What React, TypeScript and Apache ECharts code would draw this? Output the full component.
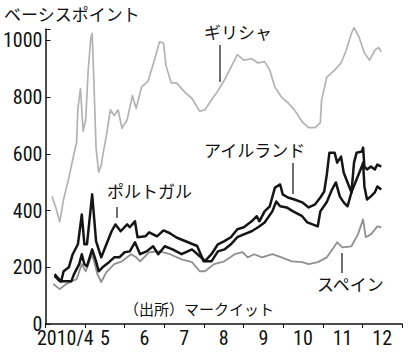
import React, { useEffect, useRef } from "react";
import * as echarts from "echarts";

const monthLabels = ["2010/4", "5", "6", "7", "8", "9", "10", "11", "12"];
const yTicks = [0, 200, 400, 600, 800, 1000];

const greece: [string, number][] = [
  ["2010-04-06", 450], ["2010-04-09", 410], ["2010-04-12", 360], ["2010-04-15", 440],
  ["2010-04-19", 515], ["2010-04-22", 580], ["2010-04-25", 640], ["2010-04-26", 760],
  ["2010-04-28", 830], ["2010-04-30", 680], ["2010-05-02", 720], ["2010-05-04", 900],
  ["2010-05-06", 1010], ["2010-05-07", 1025], ["2010-05-08", 900], ["2010-05-10", 620],
  ["2010-05-12", 535], ["2010-05-14", 560], ["2010-05-15", 590], ["2010-05-18", 665],
  ["2010-05-21", 755], ["2010-05-24", 735], ["2010-05-27", 755], ["2010-05-30", 690],
  ["2010-06-03", 720], ["2010-06-07", 805], ["2010-06-10", 760], ["2010-06-14", 835],
  ["2010-06-19", 855], ["2010-06-24", 930], ["2010-06-28", 995], ["2010-07-01", 990],
  ["2010-07-03", 910], ["2010-07-07", 850], ["2010-07-11", 850], ["2010-07-18", 815],
  ["2010-07-23", 795], ["2010-07-29", 750], ["2010-08-02", 755], ["2010-08-07", 790],
  ["2010-08-11", 815], ["2010-08-17", 860], ["2010-08-22", 905], ["2010-08-27", 950],
  ["2010-09-01", 930], ["2010-09-07", 935], ["2010-09-12", 920], ["2010-09-17", 925],
  ["2010-09-21", 895], ["2010-09-25", 835], ["2010-09-30", 800], ["2010-10-05", 780],
  ["2010-10-10", 755], ["2010-10-16", 713], ["2010-10-21", 692], ["2010-10-26", 692],
  ["2010-10-30", 710], ["2010-10-31", 790], ["2010-11-04", 870], ["2010-11-10", 895],
  ["2010-11-15", 920], ["2010-11-19", 965], ["2010-11-23", 1025], ["2010-11-25", 1045],
  ["2010-11-29", 1010], ["2010-12-03", 955], ["2010-12-07", 930], ["2010-12-11", 965],
  ["2010-12-14", 975], ["2010-12-16", 960],
];

const portugal: [string, number][] = [
  ["2010-04-08", 176], ["2010-04-13", 150], ["2010-04-15", 186], ["2010-04-19", 200],
  ["2010-04-22", 246], ["2010-04-26", 281], ["2010-04-29", 386], ["2010-05-01", 281],
  ["2010-05-03", 281], ["2010-05-07", 457], ["2010-05-10", 292], ["2010-05-14", 235],
  ["2010-05-18", 281], ["2010-05-22", 327], ["2010-05-25", 351], ["2010-05-29", 327],
  ["2010-06-03", 351], ["2010-06-05", 341], ["2010-06-09", 362], ["2010-06-11", 306],
  ["2010-06-17", 309], ["2010-06-20", 323], ["2010-06-26", 309], ["2010-07-01", 330],
  ["2010-07-06", 320], ["2010-07-11", 305], ["2010-07-19", 290], ["2010-07-27", 275],
  ["2010-08-01", 221], ["2010-08-07", 221], ["2010-08-12", 256], ["2010-08-17", 263],
  ["2010-08-22", 281], ["2010-08-27", 306], ["2010-09-01", 316], ["2010-09-07", 327],
  ["2010-09-12", 341], ["2010-09-17", 358], ["2010-09-23", 397], ["2010-09-26", 432],
  ["2010-09-29", 415], ["2010-10-04", 411], ["2010-10-09", 397], ["2010-10-16", 380],
  ["2010-10-20", 358], ["2010-10-24", 351], ["2010-10-28", 344], ["2010-10-30", 397],
  ["2010-11-04", 430], ["2010-11-08", 474], ["2010-11-11", 499], ["2010-11-14", 450],
  ["2010-11-17", 429], ["2010-11-20", 415], ["2010-11-23", 464], ["2010-11-27", 510],
  ["2010-12-01", 555], ["2010-12-02", 569], ["2010-12-03", 485], ["2010-12-05", 439],
  ["2010-12-08", 450], ["2010-12-11", 464], ["2010-12-13", 485], ["2010-12-16", 474],
];

const ireland: [string, number][] = [
  ["2010-04-08", 170], ["2010-04-12", 151], ["2010-04-17", 151], ["2010-04-21", 151],
  ["2010-04-23", 176], ["2010-04-27", 211], ["2010-04-29", 246], ["2010-05-01", 211],
  ["2010-05-03", 204], ["2010-05-07", 263], ["2010-05-10", 221], ["2010-05-12", 186],
  ["2010-05-16", 204], ["2010-05-20", 218], ["2010-05-24", 235], ["2010-05-28", 235],
  ["2010-06-01", 253], ["2010-06-05", 256], ["2010-06-09", 288], ["2010-06-13", 246],
  ["2010-06-18", 256], ["2010-06-23", 274], ["2010-06-27", 246], ["2010-07-02", 274],
  ["2010-07-08", 263], ["2010-07-15", 246], ["2010-07-23", 263], ["2010-07-29", 239],
  ["2010-08-02", 222], ["2010-08-07", 246], ["2010-08-12", 281], ["2010-08-17", 292],
  ["2010-08-22", 306], ["2010-08-27", 334], ["2010-09-01", 341], ["2010-09-07", 362],
  ["2010-09-11", 380], ["2010-09-13", 362], ["2010-09-17", 397], ["2010-09-21", 415],
  ["2010-09-25", 481], ["2010-09-29", 492], ["2010-10-01", 457], ["2010-10-05", 446],
  ["2010-10-10", 439], ["2010-10-16", 429], ["2010-10-21", 411], ["2010-10-26", 422],
  ["2010-10-30", 446], ["2010-11-02", 467], ["2010-11-04", 527], ["2010-11-06", 604],
  ["2010-11-10", 604], ["2010-11-12", 569], ["2010-11-15", 590], ["2010-11-17", 534],
  ["2010-11-20", 499], ["2010-11-23", 464], ["2010-11-25", 569], ["2010-11-27", 604],
  ["2010-12-01", 608], ["2010-12-02", 622], ["2010-12-03", 555], ["2010-12-05", 545],
  ["2010-12-08", 555], ["2010-12-11", 545], ["2010-12-13", 562], ["2010-12-16", 555],
];

const spain: [string, number][] = [
  ["2010-04-07", 141], ["2010-04-12", 123], ["2010-04-17", 141], ["2010-04-25", 158],
  ["2010-04-29", 211], ["2010-05-02", 186], ["2010-05-07", 246], ["2010-05-11", 176],
  ["2010-05-14", 148], ["2010-05-18", 183], ["2010-05-24", 211], ["2010-05-30", 221],
  ["2010-06-06", 246], ["2010-06-10", 235], ["2010-06-13", 221], ["2010-06-20", 253],
  ["2010-06-28", 256], ["2010-07-06", 246], ["2010-07-15", 228], ["2010-07-23", 218],
  ["2010-07-29", 186], ["2010-08-02", 186], ["2010-08-09", 211], ["2010-08-17", 221],
  ["2010-08-25", 246], ["2010-08-31", 253], ["2010-09-04", 235], ["2010-09-09", 246],
  ["2010-09-15", 235], ["2010-09-23", 246], ["2010-09-30", 235], ["2010-10-08", 221],
  ["2010-10-16", 218], ["2010-10-21", 211], ["2010-10-28", 218], ["2010-11-04", 235],
  ["2010-11-10", 274], ["2010-11-12", 288], ["2010-11-16", 270], ["2010-11-23", 274],
  ["2010-11-28", 316], ["2010-12-02", 369], ["2010-12-04", 306], ["2010-12-08", 316],
  ["2010-12-13", 344], ["2010-12-16", 341],
];

const NUM_FONT = "'Liberation Sans Narrow', 'Arial Narrow', 'Roboto Condensed', 'Liberation Sans', sans-serif";
const JP_FONT = "'Noto Sans CJK JP', sans-serif";

export default function App() {
  const ref = useRef<HTMLDivElement>(null);
  useEffect(() => {
    if (!ref.current) return;
    const chart = echarts.init(ref.current, null, { renderer: "svg" });
    const jpText = (text: string, x: number, y: number, size = 17) => ({
      type: "text",
      left: x,
      top: y,
      style: { text, fontSize: size, fontFamily: JP_FONT, fill: "#111" },
      z: 10,
    });
    const leader = (x: number, y1: number, y2: number) => ({
      type: "line",
      shape: { x1: x, y1, x2: x, y2 },
      style: { stroke: "#111", lineWidth: 1.2 },
      z: 10,
    });
    const lineSeries = (data: [string, number][], color: string, width: number, z: number) => ({
      type: "line",
      xAxisIndex: 1,
      data,
      showSymbol: false,
      clip: false,
      z,
      lineStyle: { color, width, join: "round" },
    });
    chart.setOption({
      animation: false,
      backgroundColor: "#fff",
      grid: { left: 45, right: 8, top: 29, bottom: 31, containLabel: false },
      xAxis: [
        {
          type: "category",
          data: monthLabels,
          boundaryGap: true,
          axisLine: { show: true, lineStyle: { color: "#111", width: 1.5 } },
          axisTick: { show: true, length: 4, alignWithLabel: false, lineStyle: { color: "#111" } },
          axisLabel: { color: "#111", fontSize: 20, fontFamily: NUM_FONT, margin: 4, interval: 0 },
          splitLine: { show: false },
        },
        {
          type: "time",
          min: "2010-04-01",
          max: "2011-01-01",
          show: false,
        },
      ],
      yAxis: {
        type: "value",
        min: 0,
        max: 1040,
        interval: 200,
        axisLine: { show: true, lineStyle: { color: "#111", width: 1.5 } },
        axisTick: { show: true, inside: true, length: 5, lineStyle: { color: "#111" } },
        axisLabel: {
          color: "#111",
          fontSize: 20,
          fontFamily: NUM_FONT,
          margin: 3,
          formatter: (v: number) => (yTicks.includes(v) ? String(v) : ""),
        },
        splitLine: { show: false },
      },
      series: [
        lineSeries(greece, "#b3b3b3", 1.7, 1),
        lineSeries(spain, "#909090", 1.8, 2),
        lineSeries(portugal, "#151515", 2.5, 3),
        lineSeries(ireland, "#151515", 2.5, 4),
      ],
      graphic: [
        jpText("ベーシスポイント", 4, 5, 17),
        jpText("ギリシャ", 204, 23, 17),
        leader(220, 45, 82),
        jpText("アイルランド", 204, 141, 17),
        leader(293, 163, 194),
        jpText("ポルトガル", 107, 182, 17),
        leader(117, 207, 218),
        jpText("スペイン", 317, 275, 17),
        leader(342, 253, 273),
        jpText("（出所）マークイット", 124, 301, 15),
      ],
    });
    return () => chart.dispose();
  }, []);
  return (
    <div
      ref={ref}
      style={{ position: "fixed", left: 0, top: 0, width: 410, height: 355 }}
    />
  );
}
